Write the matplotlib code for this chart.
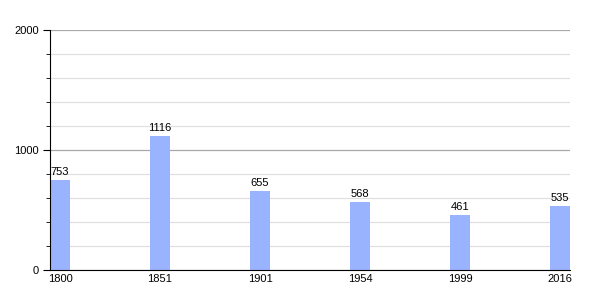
import numpy as np
import matplotlib
matplotlib.use("Agg")
import matplotlib.pyplot as plt
from matplotlib.ticker import MultipleLocator

# Population by census year
years = ["1800", "1851", "1901", "1954", "1999", "2016"]
population = [753, 1116, 655, 568, 461, 535]

BAR_COLOR = "#99b3ff"
BAR_W = 0.2

plt.rcParams["font.family"] = ["Liberation Sans", "DejaVu Sans"]

fig = plt.figure(figsize=(6, 3), dpi=100)
ax = fig.add_axes([50 / 600, 30 / 300, 520 / 600, 240 / 300])

x = np.arange(len(years))
ax.bar(x, population, width=BAR_W, align="edge", color=BAR_COLOR, zorder=3)

for xi, v in zip(x, population):
    ax.text(xi + BAR_W / 2, v + 25, str(v), ha="center", va="bottom",
            fontsize=8, zorder=4)

ax.set_xlim(0, len(years) - 1 + BAR_W)
ax.set_ylim(0, 2000)

ax.set_xticks(x + BAR_W / 2)
ax.set_xticklabels(years, fontsize=8)
ax.tick_params(axis="x", length=0, pad=3)

ax.yaxis.set_major_locator(MultipleLocator(1000))
ax.yaxis.set_minor_locator(MultipleLocator(200))
ax.tick_params(axis="y", which="major", length=5, labelsize=8, pad=3)
ax.tick_params(axis="y", which="minor", length=3)

ax.grid(axis="y", which="major", color="#a8a8a8", linewidth=0.9, zorder=0)
ax.grid(axis="y", which="minor", color="#e0e0e0", linewidth=0.9, zorder=0)

for side in ("top", "right"):
    ax.spines[side].set_visible(False)
ax.spines["left"].set_color("black")
ax.spines["bottom"].set_color("black")
ax.spines["left"].set_zorder(5)
ax.spines["bottom"].set_zorder(5)

fig.savefig("out.png", dpi=100)
